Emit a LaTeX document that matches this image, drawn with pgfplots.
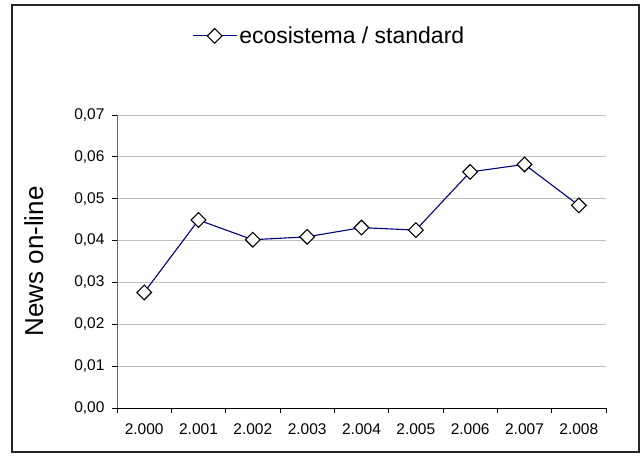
\documentclass[border=0pt]{standalone}
\usepackage{fontspec}
\setmainfont{Liberation Sans}
\usepackage{pgfplots}
\pgfplotsset{compat=1.18}
\definecolor{navyline}{RGB}{0,0,128}
\definecolor{gridgray}{RGB}{192,192,192}
\begin{document}
\begin{tikzpicture}
\useasboundingbox (-117pt,-48pt) rectangle (524pt,408pt);
\draw[line width=1.3pt, black!85] (-105pt,-44pt) rectangle (522pt,403pt);
\begin{axis}[
    at={(0pt,0pt)}, anchor=south west,
    scale only axis,
    width=489pt, height=293pt,
    xmin=-0.5, xmax=8.5,
    ymin=0, ymax=0.07,
    axis x line=bottom, axis y line=left,
    axis line style={-},
    x axis line style={black, line width=0.9pt},
    y axis line style={black!60, line width=0.9pt},
    xtick={0,...,8},
    xticklabels={2.000,2.001,2.002,2.003,2.004,2.005,2.006,2.007,2.008},
    minor xtick={-0.5,0.5,1.5,2.5,3.5,4.5,5.5,6.5,7.5,8.5},
    major x tick style={draw=none},
    minor x tick style={black, line width=0.8pt},
    ytick={0,0.01,0.02,0.03,0.04,0.05,0.06,0.07},
    scaled y ticks=false,
    y tick style={black, line width=0.8pt},
    tick align=outside,
    major tick length=5pt, minor tick length=5pt,
    ymajorgrids,
    grid style={gridgray, line width=0.9pt},
    /pgf/number format/assume math mode=true,
    yticklabel style={/pgf/number format/fixed, /pgf/number format/fixed zerofill,
        /pgf/number format/precision=2, /pgf/number format/use comma, xshift=-4pt},
    xticklabel style={yshift=-7pt},
    tick label style={font=\fontsize{15.5}{18}\selectfont},
    ylabel={News on-line},
    ylabel style={at={(axis description cs:-0.170,0.5)}, anchor=center, font=\fontsize{26}{30}\selectfont},
    legend style={at={(axis description cs:0.434,1.27)}, anchor=center, draw=none, fill=none,
        font=\fontsize{23}{27}\selectfont},
    legend image code/.code={\draw[mark repeat=2, mark phase=2, #1] plot coordinates {(0pt,0pt) (22pt,0pt) (44pt,0pt)};},
    clip=false,
]
\addplot[navyline, line width=1.1pt, mark=square*, mark size=5.2pt,
    mark options={rotate=45, fill=white, draw=black, line width=1.1pt}]
    coordinates {
    (0,0.0276) (1,0.0449) (2,0.0402) (3,0.0409) (4,0.0431)
    (5,0.0425) (6,0.0564) (7,0.0582) (8,0.0484)
};
\legend{ecosistema / standard}
\end{axis}
\end{tikzpicture}
\end{document}
